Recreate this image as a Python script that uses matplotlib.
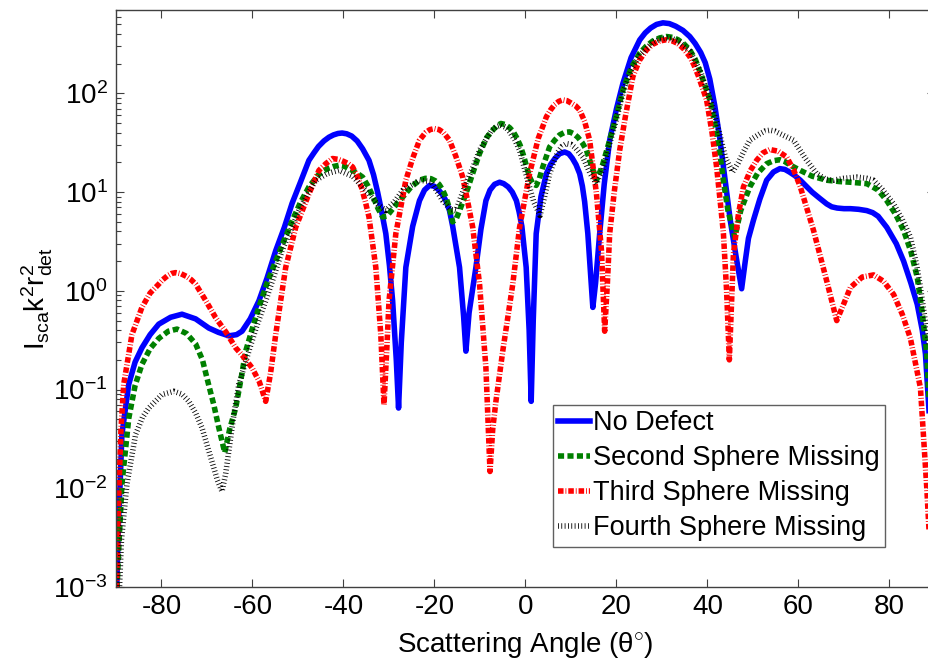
import matplotlib
matplotlib.use("Agg")
import matplotlib.pyplot as plt
from matplotlib.ticker import LogLocator, FixedLocator, LogFormatterSciNotation, NullFormatter

plt.rcParams['font.family'] = ['Liberation Sans', 'DejaVu Sans']
plt.rcParams['mathtext.fontset'] = 'custom'
plt.rcParams['mathtext.rm'] = 'Liberation Sans'
plt.rcParams['mathtext.it'] = 'Liberation Sans:italic'
plt.rcParams['mathtext.bf'] = 'Liberation Sans:bold'
plt.rcParams['axes.unicode_minus'] = False

# ---- scattered intensity vs. scattering angle (degrees) ----
angle_nodefect = [-90, -89.5, -89.1, -88.7, -87.2, -85.8, -84.3, -82.5, -80.6, -78,
                  -75.5, -72.5, -69.6, -67.5, -65.2, -63.5, -62.3, -60.5, -58.6, -56.8,
                  -54.9, -53, -51.3, -49.5, -47.6, -46.5, -45.5, -44.3, -43.2, -42.2,
                  -41.2, -40.3, -39.3, -38.2, -37, -35.8, -34.4, -33.4, -32.5, -31.6,
                  -30.7, -29.9, -29.2, -28.4, -27.9, -27.3, -26.3, -24.8, -23.3, -22.2,
                  -21.1, -20.1, -19.3, -18.3, -17.5, -16.7, -16, -14.5, -13.6, -13.1,
                  -12.4, -10.9, -9.8, -8.7, -7.8, -6.8, -5.7, -4.8, -3.8, -2.9,
                  -2.0, -1.4, -0.8, 0.15, 0.8, 1.25, 1.7, 2.35, 3.4, 4.6,
                  5.5, 6.5, 7.5, 8.6, 9.5, 10.3, 11.1, 11.9, 12.5, 13.0,
                  13.7, 14.3, 14.8, 15.4, 16.3, 17.3, 18.5, 20, 21.4, 23.2,
                  25.1, 26.3, 27.5, 28.8, 30.2, 31.6, 33, 34.6, 36.1, 37.3,
                  38.5, 39.5, 40.5, 41.6, 42.7, 43.8, 45, 46.3, 47.5, 48.3,
                  49, 50.1, 51.5, 53, 54.5, 55.9, 57, 58, 59.2, 60.4,
                  61.7, 63, 64.6, 66.2, 67.3, 68.5, 70, 71.4, 73.2, 75,
                  76.3, 77.5, 79.4, 81.5, 83.1, 84.7, 86.1, 87.2, 87.9, 88.8,
                  89.5, 90]
inten_nodefect = [5e-4, 0.004, 0.011, 0.035, 0.113, 0.19, 0.265, 0.36, 0.46, 0.54,
                  0.58, 0.52, 0.42, 0.38, 0.35, 0.36, 0.39, 0.52, 0.79, 1.35,
                  2.55, 4.4, 7.7, 12.5, 21, 25, 29, 33, 36, 38,
                  39.3, 39.7, 39, 37, 33, 27.5, 21, 15, 10, 6.3,
                  3.8, 1.8, 0.79, 0.2, 0.065, 0.3, 1.73, 4.5, 8.2, 10.5,
                  11.7, 11.5, 10.8, 9.5, 8.2, 6.5, 4.5, 1.73, 0.55, 0.245,
                  0.6, 1.73, 4.2, 8.2, 10.5, 12.0, 12.6, 12.2, 11.3, 10,
                  8.2, 6.3, 4.5, 1.73, 0.4, 0.076, 0.5, 3.8, 9, 15.4,
                  19, 22, 24.5, 25.5, 24.5, 22, 19, 15.4, 11.5, 8,
                  3.8, 1.5, 0.68, 1.2, 3.8, 12, 33.6, 70, 126, 230,
                  348, 410, 460, 500, 519, 510, 480, 435, 377, 320,
                  260, 205, 140, 75, 35, 14, 5.2, 2.2, 1.05, 2.0,
                  3.4, 5.2, 8.5, 13.2, 16, 17.3, 17, 16, 14.7, 13.2,
                  11.5, 10, 8.7, 7.6, 7.1, 6.9, 6.8, 6.8, 6.7, 6.5,
                  6.2, 5.7, 4.4, 3.0, 2.0, 1.2, 0.73, 0.4, 0.23, 0.05,
                  0.005, 5e-4]

angle_second = [-90, -89.5, -89, -88.7, -87.2, -85.8, -84.3, -82.5, -80.6, -78.5,
                -76.6, -74.5, -72.5, -71, -69.6, -68.5, -67.4, -66.1, -65, -63.7,
                -62.5, -61.5, -60, -58.6, -56.8, -54.9, -53, -51.3, -49.5, -47.6,
                -45.5, -44.5, -43.5, -42.2, -41, -39.8, -38.5, -37.2, -35.8, -34.6,
                -33.5, -32.4, -31.4, -30.5, -29.5, -28.2, -27, -25.2, -23.3, -22,
                -20.8, -19.8, -19, -18.2, -17.5, -16.7, -16, -15.2, -14.5, -13.1,
                -11.5, -10.1, -8.5, -7.2, -6.3, -5.4, -4.5, -3.5, -2.7, -2.0,
                -1.2, -0.5, 0.2, 0.9, 1.6, 2.35, 3.0, 3.8, 5.3, 6.4,
                7.5, 8.6, 9.7, 10.6, 11.5, 12.5, 13.4, 14.6, 15.6, 16.8,
                18.5, 20, 21.4, 23.2, 25.1, 26.5, 28, 29.5, 31, 32.3,
                33.5, 34.8, 36.1, 37.3, 38.5, 39.5, 40.5, 41.3, 42, 42.7,
                43.5, 44.5, 46, 47.3, 49.3, 51, 53, 54.5, 55.9, 57,
                58, 60.4, 63, 66.2, 69, 71.4, 75, 77.5, 79.4, 81.3,
                83.1, 84.7, 86.1, 87.2, 88.2, 89, 89.6, 90]
inten_second = [5e-4, 0.002, 0.006, 0.011, 0.051, 0.11, 0.18, 0.26, 0.33, 0.39,
                0.41, 0.37, 0.29, 0.2, 0.11, 0.07, 0.041, 0.023, 0.04, 0.065,
                0.13, 0.245, 0.42, 0.68, 1.2, 2.0, 3.3, 5.1, 7.8, 11.3,
                15, 16.3, 17.3, 18.2, 18.7, 18.3, 17, 15.8, 14.2, 11.5,
                9, 6.8, 5.6, 5.7, 6.5, 7.7, 8.9, 11.2, 13.2, 13.8,
                13.7, 13, 12, 10.5, 8.9, 6.8, 5.0, 5.4, 6.5, 9.6,
                16, 24.6, 36, 42.4, 47, 49.6, 48.5, 45, 41, 36,
                30, 24, 18.5, 14.2, 12.2, 11.7, 13.5, 18, 28.7, 33.5,
                38, 40.3, 40.8, 39, 36, 31.5, 26.6, 18, 13.2, 18,
                33.6, 60, 108, 180, 256, 300, 340, 365, 377, 370,
                350, 318, 276, 222, 160, 118, 86, 58, 40, 25,
                13, 6.5, 3.5, 6.5, 11.3, 15.5, 19.4, 20.8, 21.3, 20.4,
                19, 16.6, 14.5, 13.2, 12.8, 12.6, 12.2, 10.5, 8.2, 6,
                4.1, 2.5, 1.37, 0.6, 0.23, 0.04, 0.004, 5e-4]

angle_third = [-90, -89.4, -88.9, -88.3, -86.5, -84.3, -82.5, -80.6, -79.7, -78.7,
               -77.8, -76.9, -75.7, -74.5, -73.5, -72.5, -70.3, -68.1, -65.8, -63.7,
               -61.8, -60.1, -58.5, -57.1, -56, -54.9, -53.8, -52.7, -50.5, -47.6,
               -45.4, -43.9, -42.4, -41.2, -40, -39, -38, -37, -36, -35.2,
               -34.4, -32.9, -31.8, -31.1, -30.5, -30, -28.5, -26.3, -24.8, -23.3,
               -22, -21, -20, -19, -18, -16.7, -15.3, -13.8, -12.7, -11.6,
               -10.1, -8.7, -7.8, -7.2, -6.5, -5.0, -2.8, -1.3, 0.9, 2.8,
               4.6, 5.5, 6.4, 7.3, 8.2, 9.1, 10, 11, 11.9, 13,
               14.1, 15.6, 16.7, 17.4, 18, 18.5, 19.5, 20.7, 22, 23.6,
               25, 26.6, 28, 29.5, 31, 32.3, 33.5, 34.8, 36.1, 37,
               38, 39.8, 41, 42, 43, 43.5, 44.2, 44.8, 45.3, 45.7,
               46.8, 47.9, 49.4, 50.8, 52.2, 53.7, 55.5, 57.4, 59, 60.4,
               63.3, 66.2, 68.4, 70, 71.4, 74, 76.5, 78.7, 80.9, 82.8,
               84.6, 86.8, 88.2, 89, 90]
inten_third = [6e-4, 0.0085, 0.04, 0.113, 0.36, 0.68, 0.95, 1.17, 1.3, 1.42,
               1.5, 1.53, 1.49, 1.4, 1.3, 1.17, 0.8, 0.535, 0.38, 0.265,
               0.21, 0.166, 0.12, 0.076, 0.15, 0.36, 0.8, 1.73, 4.4, 9.6,
               16.6, 19.4, 21.9, 21.5, 20.5, 19.5, 18, 14.5, 11, 8,
               5.6, 1.73, 0.36, 0.07, 0.25, 0.79, 3.8, 13.2, 22, 33.6,
               40, 43, 44, 43, 40, 33.6, 23, 14.2, 8, 4.4,
               1.17, 0.166, 0.0148, 0.04, 0.076, 0.245, 1.17, 4.4, 15.4, 35,
               58, 68, 77, 83, 86, 84.5, 80, 75, 68, 52,
               33.6, 9.6, 2.55, 0.39, 1.2, 3.8, 10, 26.6, 60, 148,
               215, 276, 315, 340, 350, 340, 320, 282, 236, 195,
               150, 86, 40, 18, 6.5, 3.8, 1.0, 0.2, 0.8, 2.36,
               6, 11.3, 16.5, 21, 25, 27, 26, 22.7, 16.5, 11.3,
               4.1, 1.26, 0.5, 0.75, 1.08, 1.38, 1.45, 1.25, 0.92, 0.58,
               0.33, 0.104, 0.01, 0.002, 5e-4]

angle_fourth = [-90, -89.5, -88.8, -87.6, -85.7, -84.2, -82.8, -79.9, -77.3, -75.5,
                -74, -72.5, -71.1, -68.9, -67.7, -66.7, -65.9, -65.2, -64, -63,
                -60.8, -59, -57.1, -55.3, -53.5, -51.5, -49.8, -48, -46.1, -43.5,
                -41, -38, -34.4, -32.5, -30.7, -28.8, -27, -23.3, -20.8, -18.2,
                -16.5, -15.3, -13.1, -11.5, -10.1, -7.5, -6.4, -5.4, -4.4, -3.5,
                -2.4, -1.3, 0.5, 1.8, 3.2, 4.2, 5.3, 7, 8, 9,
                10, 11, 12.6, 14.2, 15.6, 17, 18.5, 20, 21.4, 23.2,
                25.1, 28, 29.5, 31, 32.3, 33.5, 36.1, 38.5, 40.5, 42.5,
                44, 45.5, 46.8, 48, 49.3, 51.5, 52.6, 53.7, 54.8, 56,
                58.9, 61.5, 64, 66, 67.7, 70, 72.8, 75, 76.5, 78.5,
                80.9, 82.8, 84.6, 86, 86.8, 88, 89, 89.6, 90]
inten_fourth = [2e-4, 5e-4, 0.003, 0.011, 0.035, 0.052, 0.065, 0.089, 0.096, 0.09,
                0.076, 0.058, 0.041, 0.0186, 0.012, 0.0093, 0.014, 0.024, 0.06, 0.113,
                0.245, 0.45, 0.79, 1.4, 2.55, 4.2, 6.5, 9.5, 13.2, 15.5,
                16.6, 14.5, 9.6, 7.5, 6.5, 8, 10.4, 13.2, 12.8, 8.2,
                6.7, 6.5, 12.2, 18, 26.6, 42, 46, 47.6, 45.5, 41,
                34, 26.6, 13, 8, 5.8, 9, 15.4, 25, 29, 31,
                30.5, 28, 22.7, 15.5, 12.2, 17, 31, 55, 100, 170,
                245, 330, 355, 365, 358, 340, 270, 165, 90, 42,
                22, 16, 20, 26, 33.6, 39, 41.5, 42.4, 41.5, 39,
                33.6, 22, 15.4, 13.5, 13.2, 13.8, 14.2, 13.8, 13.2, 10.5,
                7.6, 5.3, 3.5, 1.8, 1.08, 0.45, 0.23, 0.05, 0.005]

series_labels = ['No Defect', 'Second Sphere Missing', 'Third Sphere Missing', 'Fourth Sphere Missing']
x_ticks = [-80, -60, -40, -20, 0, 20, 40, 60, 80]

W, H = 929, 661
AX_L, AX_R, AX_T, AX_B = 116, 935, 10, 587
fig = plt.figure(figsize=(W / 100, H / 100), dpi=100, facecolor='white')
ax = fig.add_axes([AX_L / W, 1 - AX_B / H, (AX_R - AX_L) / W, (AX_B - AX_T) / H])

lw = 4.0
ax.plot(angle_nodefect, inten_nodefect, color='#0000FF', lw=lw, ls='-', label=series_labels[0])
ax.plot(angle_second, inten_second, color='#008000', lw=lw, ls=(0, (1.1, 0.6)), label=series_labels[1])
ax.plot(angle_third, inten_third, color='#FF0000', lw=lw, ls=(0, (1.0, 0.35, 0.15, 0.35)), label=series_labels[2])
ax.plot(angle_fourth, inten_fourth, color='#000000', lw=lw, ls=(0, (0.15, 0.45)), label=series_labels[3])

ax.set_yscale('log')
ax.set_xlim(-90, 90)
ax.set_ylim(1e-3, 700)
ax.xaxis.set_major_locator(FixedLocator(x_ticks))
ax.yaxis.set_major_locator(LogLocator(base=10, numticks=20))
ax.yaxis.set_minor_locator(LogLocator(base=10, subs=range(2, 10), numticks=20))
ax.yaxis.set_major_formatter(LogFormatterSciNotation())
ax.yaxis.set_minor_formatter(NullFormatter())

for s in ax.spines.values():
    s.set_color('#404040')
    s.set_linewidth(1.0)

ax.tick_params(which='both', direction='in', top=True, right=True, colors='#404040',
               labelcolor='black', labelsize=20)
ax.tick_params(which='major', length=6, width=0.8)
ax.tick_params(which='minor', length=3.5, width=0.8)
ax.tick_params(axis='x', pad=5)
ax.tick_params(axis='y', pad=6)

ax_w, ax_h = AX_R - AX_L, AX_B - AX_T
ax.set_xlabel('Scattering Angle (θ$^{\\circ}$)', fontsize=20)
ax.xaxis.set_label_coords(0.5, -(652 - AX_B) / ax_h, transform=ax.transAxes)
ax.xaxis.label.set_va('baseline')
ax.set_ylabel(r'$\mathregular{I_{sca}k^2r^2_{det}}$', fontsize=20)
ax.yaxis.set_label_coords(-(AX_L - 37) / ax_w, 0.5, transform=ax.transAxes)
ax.yaxis.label.set_va('center')

leg = ax.legend(loc='upper left', bbox_to_anchor=(553 / W, 1 - 405 / H),
                bbox_transform=fig.transFigure, fontsize=19.5, frameon=True, fancybox=False,
                framealpha=1, edgecolor='#606060', handlelength=1.15, handletextpad=0.12,
                labelspacing=0.33, borderpad=0.2, borderaxespad=0)
leg.get_frame().set_linewidth(1.0)

fig.savefig('out.png', dpi=100, facecolor='white')
